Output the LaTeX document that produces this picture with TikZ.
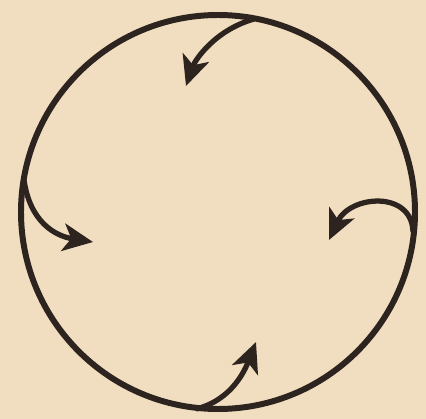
\documentclass[tikz,border=0pt]{standalone}
\usepackage{tikz}
\usetikzlibrary{arrows.meta}
\definecolor{paperBeige}{RGB}{241,222,192}
\definecolor{inkBrown}{RGB}{45,36,32}

\begin{document}
\begin{tikzpicture}[x=0.02cm,y=-0.02cm,>={Stealth[length=6mm,width=5.5mm,inset=1.6mm]}]
  \fill[paperBeige] (0,0) rectangle (426,419);
  \useasboundingbox (0,0) rectangle (426,419);
  \draw[inkBrown,line width=3.4pt] (218,212) ellipse [x radius=197,y radius=197];
  % starting points on the rim
  \coordinate (top) at (254,19);
  \coordinate (left) at (24,180);
  \coordinate (right) at (413,232);
  \coordinate (bottom) at (196,409);
  % arrow tips inside
  \coordinate (topTip) at (186,86);
  \coordinate (leftTip) at (93,242);
  \coordinate (rightTip) at (329,240);
  \coordinate (bottomTip) at (256,342);
  \draw[->,inkBrown,line width=3pt] (top) .. controls (215,30) and (195,60) .. (topTip);
  \draw[->,inkBrown,line width=3pt] (left) .. controls (30,222) and (55,236) .. (leftTip);
  \draw[->,inkBrown,line width=3pt] (right) .. controls (412,190) and (350,195) .. (rightTip);
  \draw[->,inkBrown,line width=3pt] (bottom) .. controls (232,400) and (245,370) .. (bottomTip);
\end{tikzpicture}
\end{document}
